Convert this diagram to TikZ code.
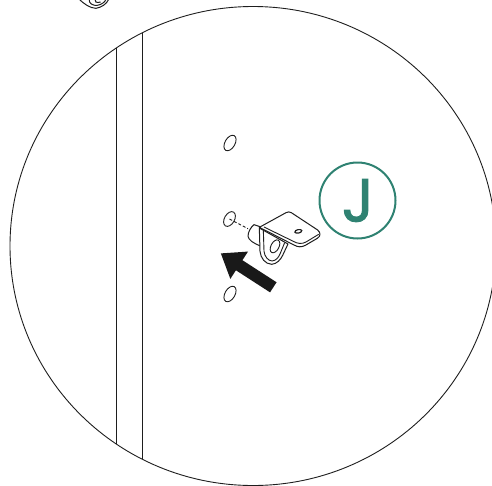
\documentclass[tikz,border=0pt]{standalone}
\usepackage{fontspec}
\usetikzlibrary{positioning, arrows.meta, shapes.geometric}
\newfontfamily\stepfont[FakeBold=1.5]{Poppins}
\definecolor{stepgreen}{HTML}{2F8272}
\definecolor{inkline}{HTML}{1E1E1E}
\tikzset{
  outline/.style={draw=inkline, line width=0.9pt},
  part/.style={draw=inkline, line width=1pt, line join=round, fill=white},
  hole/.style={ellipse, draw=inkline, line width=0.9pt, minimum width=17pt, minimum height=10pt, inner sep=0pt, rotate=60},
  stepring/.style={circle, draw=stepgreen, line width=2pt, minimum size=76pt, inner sep=0pt},
  steplabel/.style={inner sep=0pt, text=stepgreen, font=\stepfont\fontsize{61}{61}\selectfont},
  >=Stealth,
}
\begin{document}
\begin{tikzpicture}[x=1pt, y=-1pt]
    \useasboundingbox (0,0) rectangle (492,485);
    \clip (0,0) rectangle (492,485);
    % detail circle and wall edges
    \draw[outline] (253,246) ellipse [x radius=243, y radius=239.5];
    \draw[outline] (116,48) -- (116,444);
    \draw[outline] (142,33) -- (142,459);
    % holes in the wall
    \node[hole] (holetop) at (230,143) {};
    \node[hole, minimum width=16pt] (holemid) at (229.5,219) {};
    \node[hole] (holebot) at (230,294) {};
    \coordinate (stud) at (248,228.7);
    \draw[outline, dashed, dash pattern=on 3pt off 2pt] (holemid.center) -- (stud);
    % bracket
    \begin{scope}[shift={(250,208)}, x=0.3333pt, y=-0.3333pt]
      \draw[part] (30,56) -- (12,50) .. controls (2,58) and (-6,72) .. (-6,85) .. controls (-4,96) and (10,106) .. (32,114) -- cycle;
      \draw[part] (28,60) -- (30,130) .. controls (32,150) and (45,168) .. (65,169) .. controls (80,168) and (92,155) .. (98,142) -- (114,108) -- cycle;
      \draw[outline] (40,66) -- (42,130) .. controls (44,146) and (54,158) .. (66,159) .. controls (78,158) and (86,148) .. (90,138) -- (104,104);
      \node[ellipse, draw=inkline, line width=0.9pt, minimum width=14pt, minimum height=8pt, inner sep=0pt, rotate=62] (bracketeye) at (75,115) {};
      \draw[part] (28,58) -- (108,14) .. controls (113,11) and (119,11) .. (124,14) -- (203,66) .. controls (212,74) and (213,84) .. (202,91) -- (166,112) .. controls (155,118) and (144,118) .. (132,111) -- cycle;
      \draw[outline] (42,57) -- (130,100) .. controls (142,107) and (155,109) .. (168,102) -- (206,79);
      \node[ellipse, draw=inkline, line width=1.2pt, fill=white, minimum width=7pt, minimum height=3.5pt, inner sep=0pt, rotate=12] (bracketslot) at (145,70) {};
    \end{scope}
    % push arrow
    \coordinate (pushtail) at (273.3,287.3);
    \coordinate (pushtip) at (220.7,253.3);
    \draw[-{Triangle[length=22pt, width=31pt]}, draw=black!90, line width=12pt] (pushtail) -- (pushtip);
    % step label
    \node[stepring] (stepj) at (357.5,200.5) {};
    \node[steplabel, xshift=0.5pt, yshift=0pt] (stepjtext) at (stepj.center) {J};
    % next part, cut by the page edge
    \begin{scope}[shift={(60,0)}, x=0.3333pt, y=-0.3333pt]
      \draw[outline, line width=1pt] (58,-2) .. controls (70,10) and (90,25) .. (108,25) .. controls (125,22) and (140,12) .. (146,-2);
      \draw[outline, line width=1pt] (88,-2) .. controls (85,10) and (100,18) .. (112,16) .. controls (125,14) and (135,6) .. (138,-2);
      \draw[outline, line width=1pt] (105,-2) .. controls (102,5) and (110,10) .. (122,6);
    \end{scope}
  \end{tikzpicture}
\end{document}
